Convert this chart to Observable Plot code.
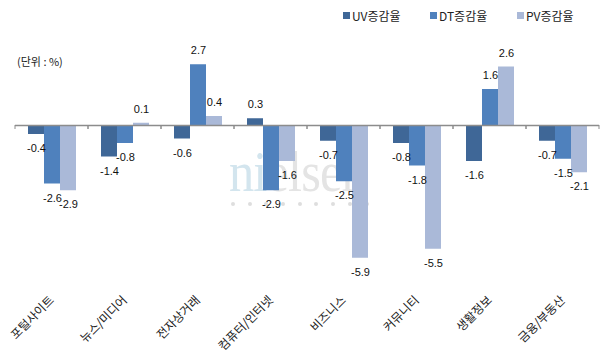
<!DOCTYPE html>
<html>
<head>
<meta charset="utf-8">
<script src="https://cdn.jsdelivr.net/npm/d3@7"></script>
<script src="https://cdn.jsdelivr.net/npm/@observablehq/plot@0.6"></script>
<style>
  body { margin: 0; background: #fff; font-family: "Noto Sans CJK KR", "Liberation Sans", sans-serif; }
  #wrap { position: relative; width: 605px; height: 360px; overflow: hidden; }
  #wm { position: absolute; left: 229px; top: 142px; width: 170px; pointer-events: none; }
  #wm .word { font-family: "Liberation Serif", "DejaVu Serif", serif; font-size: 58px; line-height: 60px; letter-spacing: -1px; transform: scaleX(0.87); transform-origin: left center; white-space: nowrap; }
  #wm .dots { display: flex; gap: 12.7px; margin-left: 2px; margin-top: 0px; }
  #wm .dots span { width: 4px; height: 4px; border-radius: 50%; background: #dedede; display: block; }
  #chart { position: absolute; left: 0; top: 0; }
  #chart svg { background: transparent; }
  #legend { position: absolute; top: 7px; left: 343px; display: flex; font-size: 12px; color: #222; }
  #legend .item { width: 87px; display: flex; align-items: center; }
  #legend .sw { width: 7px; height: 7px; margin-right: 2px; }
  #unit { position: absolute; left: 17px; top: 53px; font-size: 11px; color: #222; }
</style>
</head>
<body>
<div id="wrap">
  <div id="wm"><div class="word"><span style="color:#d3e5ee">ni</span><span style="color:#e4e4e4">elsen</span></div><div class="dots"></div></div>
  <div id="chart"></div>
  <div id="legend"></div>
  <div id="unit">(단위 : %)</div>
</div>
<script>
const categories = ["포털사이트", "뉴스/미디어", "전자상거래", "컴퓨터/인터넷", "비즈니스", "커뮤니티", "생활정보", "금융/부동산"];
const series = ["UV증감율", "DT증감율", "PV증감율"];
const uvValues = [-0.4, -1.4, -0.6, 0.3, -0.7, -0.8, -1.6, -0.7];
const dtValues = [-2.6, -0.8, 2.7, -2.9, -2.5, -1.8, 1.6, -1.5];
const pvValues = [-2.9, 0.1, 0.4, -1.6, -5.9, -5.5, 2.6, -2.1];
const colors = ["#3f6797", "#4f81bd", "#aab9d8"];

const valuesBySeries = [uvValues, dtValues, pvValues];
const rows = categories.flatMap((c, i) => series.map((s, j) => ({category: c, series: s, value: valuesBySeries[j][i]})));

// watermark dots
const dots = document.querySelector("#wm .dots");
for (let k = 0; k < 9; k++) dots.appendChild(document.createElement("span"));

// legend
const legend = document.getElementById("legend");
series.forEach((s, j) => {
  const it = document.createElement("div");
  it.className = "item";
  it.innerHTML = `<span class="sw" style="background:${colors[j]}"></span><span>${s}</span>`;
  legend.appendChild(it);
});

function separators() {
  return Plot.ruleY([0], {
    render(index, scales, values, dimensions) {
      const y0 = scales.y(0);
      const g = d3.create("svg:g").attr("stroke", "#8c8c8c");
      for (const x of [dimensions.marginLeft, dimensions.width - dimensions.marginRight]) {
        g.append("line").attr("x1", x).attr("x2", x).attr("y1", y0).attr("y2", y0 + 4);
      }
      return g.node();
    }
  });
}

const chart = Plot.plot({
  width: 605,
  height: 360,
  marginTop: 46.25,
  marginBottom: 66.25,
  marginLeft: 12,
  marginRight: 3,
  style: {fontFamily: "'Noto Sans CJK KR', 'Liberation Sans', sans-serif", background: "transparent"},
  fx: {domain: categories, padding: 0},
  x: {domain: series, paddingInner: 0, paddingOuter: 0.76, axis: null},
  y: {domain: [-7.5, 3.5], axis: null},
  color: {domain: series, range: colors},
  marks: [
    Plot.barY(rows, {fx: "category", x: "series", y: "value", fill: "series"}),
    Plot.ruleY([0], {stroke: "#8c8c8c", strokeWidth: 1.3}),
    separators(),
    Plot.text(rows.filter(d => d.value >= 0), {fx: "category", x: "series", y: "value", text: d => d.value.toFixed(1), dy: -14, fontSize: 11, fill: "#111", fontFamily: "'Liberation Sans', sans-serif"}),
    Plot.text(rows.filter(d => d.value < 0), {fx: "category", x: "series", y: "value", text: d => d.value.toFixed(1), dy: 14, fontSize: 11, fill: "#111", fontFamily: "'Liberation Sans', sans-serif"}),
    Plot.axisFx({anchor: "bottom", tickRotate: -45, tickSize: 0, tickPadding: 4, fontSize: 12, label: null, fill: "#222"})
  ]
});
document.getElementById("chart").appendChild(chart);
</script>
</body>
</html>
